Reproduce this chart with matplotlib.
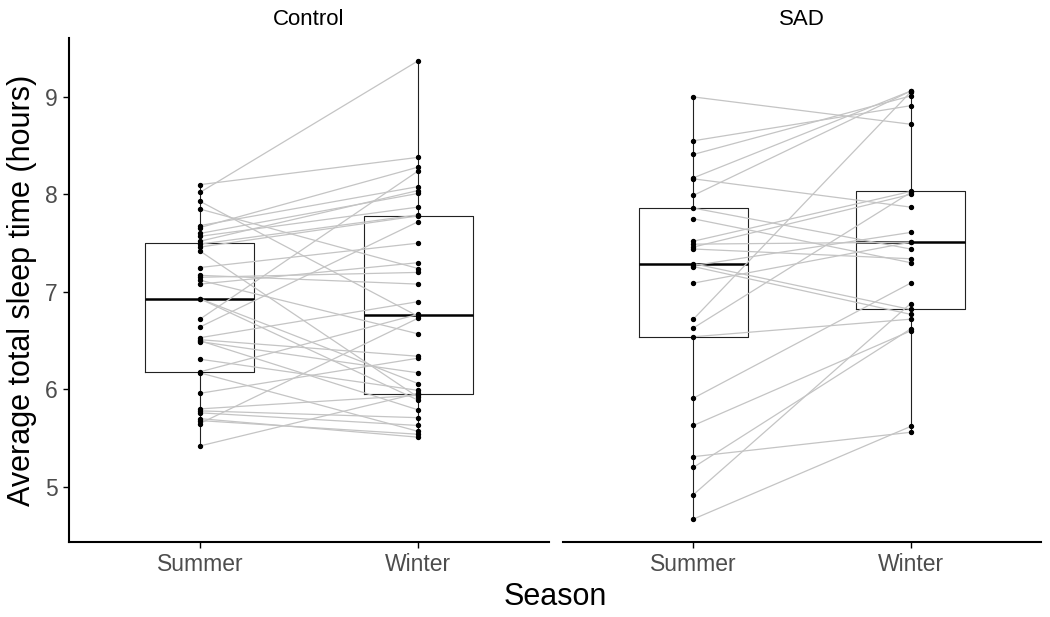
import matplotlib
matplotlib.use("Agg")
import matplotlib.pyplot as plt
import numpy as np

plt.rcParams['font.family'] = ['Liberation Sans', 'DejaVu Sans']

seasons = ['Summer', 'Winter']
groups = ['Control', 'SAD']

# paired values, one entry per subject (summer, winter)
control_summer = [8.10, 8.02, 7.93, 7.85, 7.68, 7.66, 7.60, 7.57, 7.52, 7.49,
                  7.46, 7.42, 7.25, 7.17, 7.15, 7.12, 7.08, 6.93, 6.93, 6.72,
                  6.64, 6.53, 6.51, 6.50, 6.49, 6.31, 6.18, 6.17, 5.96, 5.80,
                  5.78, 5.76, 5.70, 5.68, 5.65, 5.42]
control_winter = [8.38, 9.37, 6.75, 7.24, 8.08, 8.28, 8.01, 7.87, 8.04, 7.79,
                  7.78, 5.92, 7.50, 7.08, 7.20, 6.57, 7.30, 5.89, 6.06, 8.24,
                  7.72, 6.90, 6.34, 5.79, 6.17, 5.99, 6.77, 5.57, 6.32, 5.94,
                  5.71, 5.63, 5.51, 5.54, 6.73, 5.96]

sad_summer = [9.00, 8.55, 8.41, 8.17, 8.16, 7.99, 7.86, 7.75, 7.52, 7.49,
              7.46, 7.44, 7.29, 7.27, 7.26, 7.09, 6.72, 6.63, 6.54, 5.91,
              5.63, 5.31, 5.20, 4.92, 4.67]
sad_winter = [8.72, 8.91, 9.01, 9.06, 7.87, 9.06, 7.44, 7.30, 8.03, 7.51,
              8.00, 7.34, 6.82, 7.61, 6.77, 7.51, 9.05, 8.02, 6.72, 7.09,
              6.60, 5.56, 6.62, 6.88, 5.62]

data = {'Control': (control_summer, control_winter),
        'SAD': (sad_summer, sad_winter)}

fig = plt.figure(figsize=(10.5, 6.17), dpi=100)
ax1 = fig.add_axes([0.0657, 0.1216, 0.4571, 0.8169])
ax2 = fig.add_axes([0.5362, 0.1216, 0.4552, 0.8169], sharey=ax1)
axes = [ax1, ax2]

grey_txt = '#4D4D4D'
for ax, g in zip(axes, groups):
    summer, winter = data[g]
    ax.boxplot([summer, winter], positions=[1, 2], widths=0.5,
               showfliers=False, patch_artist=False,
               boxprops=dict(color='#222222', linewidth=0.8),
               whiskerprops=dict(color='#222222', linewidth=0.8),
               capprops=dict(linewidth=0),
               medianprops=dict(color='black', linewidth=1.8),
               zorder=1)
    for s, w in zip(summer, winter):
        ax.plot([1, 2], [s, w], color='#C4C4C4', linewidth=0.9, zorder=2)
    ax.scatter(np.ones(len(summer)), summer, s=8, color='black', zorder=3)
    ax.scatter(np.full(len(winter), 2), winter, s=8, color='black', zorder=3)

    ax.set_xlim(0.4, 2.6)
    ax.set_xticks([1, 2])
    ax.set_xticklabels(seasons)
    ax.set_title(g, fontsize=16, pad=9)
    for sp in ['top', 'right']:
        ax.spines[sp].set_visible(False)
    ax.spines['bottom'].set_linewidth(1.5)
    ax.spines['left'].set_linewidth(1.5)
    ax.tick_params(axis='both', length=4, width=1, colors='black',
                   labelcolor=grey_txt, labelsize=16.5, pad=4)

ax1.set_ylim(4.435, 9.605)
ax1.set_yticks([5, 6, 7, 8, 9])
ax2.spines['left'].set_visible(False)
ax2.tick_params(axis='y', left=False, labelleft=False)

ax1.set_ylabel('Average total sleep time (hours)', fontsize=22, labelpad=6)
fig.text(0.5286, 0.032, 'Season', fontsize=22, ha='center', va='center')

fig.savefig('out.png', dpi=100)
